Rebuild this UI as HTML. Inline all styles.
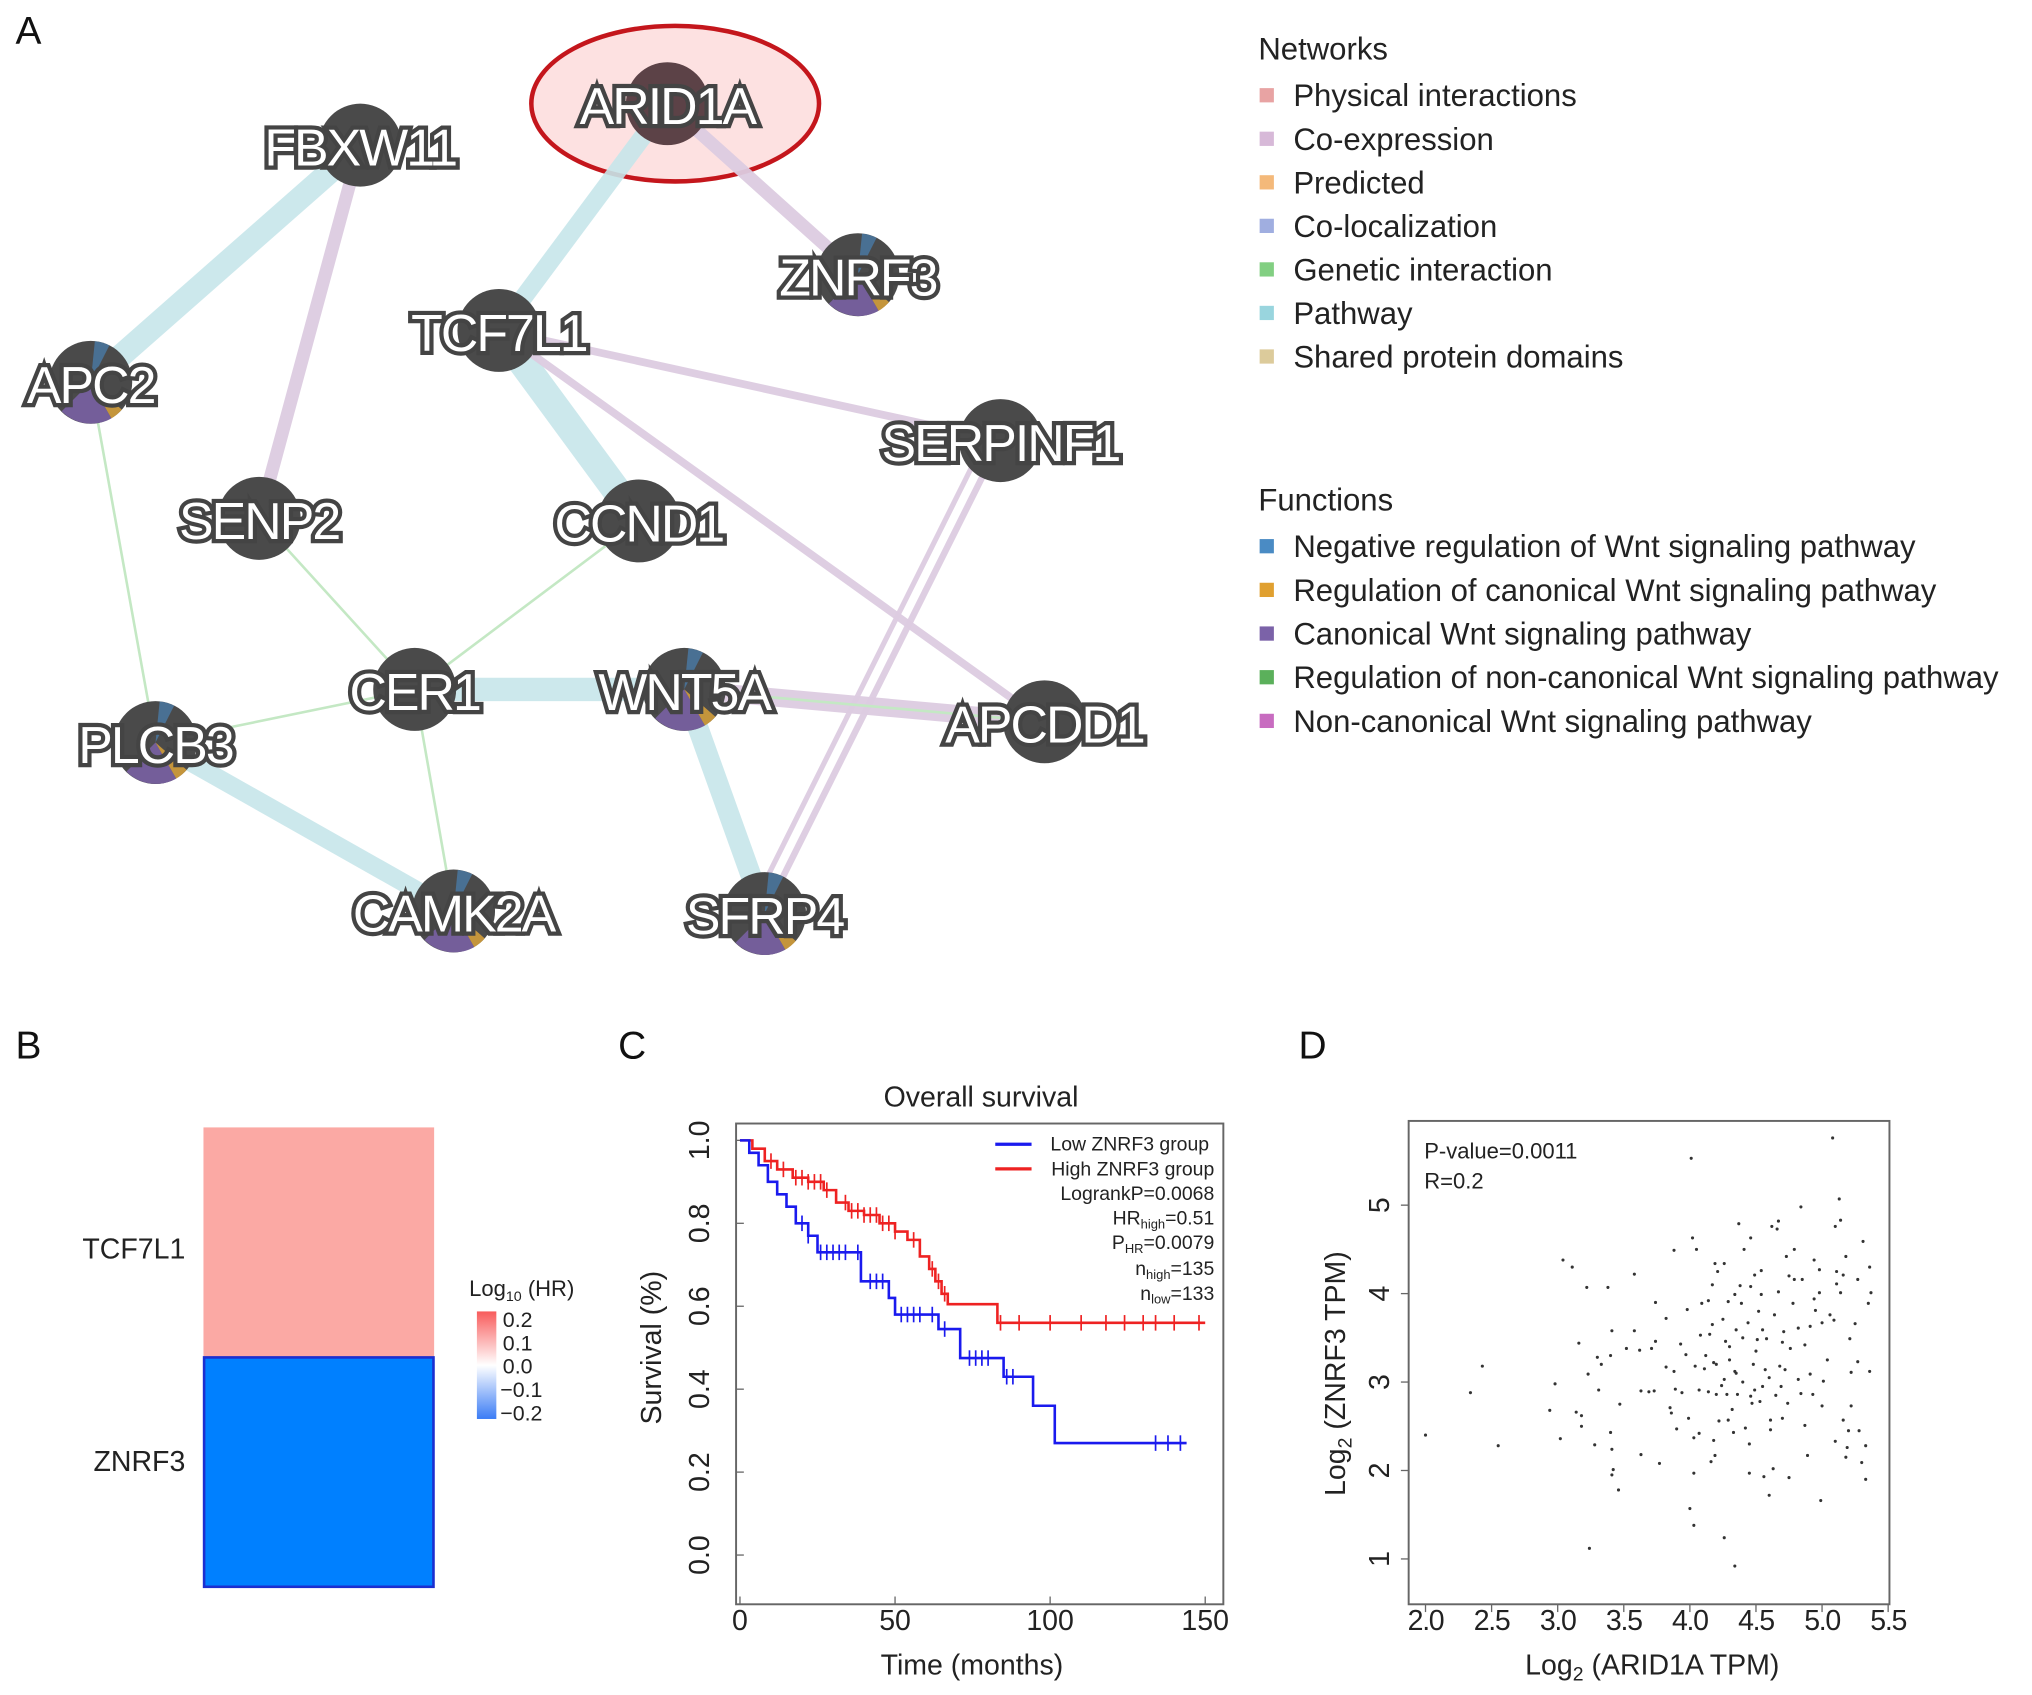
<!DOCTYPE html>
<html><head><meta charset="utf-8"><style>
html,body{margin:0;padding:0;background:#fff;}
svg{display:block;font-family:"Liberation Sans",sans-serif;}
.lab{fill:#fff;stroke:#444;stroke-width:6.5;paint-order:stroke;font-size:40px;letter-spacing:-1.5px;text-anchor:middle;dominant-baseline:central;font-family:"Liberation Sans",sans-serif;}
.leg{font-size:24px;fill:#222;}
.tk{font-size:22px;fill:#222;}
</style></head><body>
<svg id="fig" width="2032" height="1695" viewBox="0 0 1568 1308" preserveAspectRatio="none" xmlns="http://www.w3.org/2000/svg">
<rect width="1568" height="1308" fill="#fff"/>
<text x="12" y="34" font-size="30" fill="#111">A</text>
<text x="12" y="817" font-size="30" fill="#111">B</text>
<text x="477" y="817" font-size="30" fill="#111">C</text>
<text x="1002" y="817" font-size="30" fill="#111">D</text>

<g id="network">
<ellipse cx="521" cy="80" rx="111" ry="60" fill="#fde1e1" stroke="#c4161c" stroke-width="3.5"/>
<g id="edges"></g><g id="nodes"></g>
</g>

<g>
<text x="971" y="46" class="leg">Networks</text>
<g id="netleg"></g>
<text x="971" y="394" class="leg">Functions</text>
<g id="funleg"></g>
</g>

<g>
<rect x="157" y="870" width="178" height="177" fill="#fba9a4"/>
<rect x="157.5" y="1047.5" width="177" height="177" fill="#0080ff" stroke="#1c2fd0" stroke-width="2"/>
<text x="143" y="971" font-size="22" text-anchor="end" fill="#222">TCF7L1</text>
<text x="143" y="1135" font-size="22" text-anchor="end" fill="#222">ZNRF3</text>
<defs><linearGradient id="cb" x1="0" y1="0" x2="0" y2="1"><stop offset="0" stop-color="#f85c5c"/><stop offset="0.5" stop-color="#ffffff"/><stop offset="1" stop-color="#3b7cf5"/></linearGradient></defs>
<text x="362" y="1000" font-size="17" fill="#222">Log<tspan font-size="11" dy="4">10</tspan><tspan dy="-4"> (HR)</tspan></text>
<rect x="368" y="1012" width="15" height="83" fill="url(#cb)"/>
<g font-size="16.5" fill="#222">
<text x="388" y="1024">0.2</text><text x="388" y="1042">0.1</text><text x="388" y="1060">0.0</text><text x="386" y="1078">−0.1</text><text x="386" y="1096">−0.2</text></g>
</g>

<g id="km">
<text x="757" y="854" font-size="22" text-anchor="middle" fill="#222">Overall survival</text>
<rect x="568" y="867" width="376" height="371" fill="none" stroke="#666" stroke-width="1.5"/>
<text transform="translate(510,1040) rotate(-90)" font-size="22" text-anchor="middle" fill="#222">Survival (%)</text>
<text x="750" y="1292" font-size="22" text-anchor="middle" fill="#222">Time (months)</text>
<g id="kmaxes"></g><g id="kmlines"></g>
<g>
<line x1="768" y1="883" x2="796" y2="883" stroke="#1a1aee" stroke-width="2.5"/>
<line x1="768" y1="902" x2="796" y2="902" stroke="#ee2222" stroke-width="2.5"/>
<g font-size="15" fill="#222" text-anchor="end">
<text x="933" y="888">Low ZNRF3 group</text>
<text x="937" y="907">High ZNRF3 group</text>
<text x="937" y="926">LogrankP=0.0068</text>
<text x="937" y="945">HR<tspan font-size="10" dy="3">high</tspan><tspan dy="-3">=0.51</tspan></text>
<text x="937" y="964">P<tspan font-size="10" dy="3">HR</tspan><tspan dy="-3">=0.0079</tspan></text>
<text x="937" y="984">n<tspan font-size="10" dy="3">high</tspan><tspan dy="-3">=135</tspan></text>
<text x="937" y="1003">n<tspan font-size="10" dy="3">low</tspan><tspan dy="-3">=133</tspan></text>
</g></g>
</g>

<g id="sc">
<rect x="1087" y="865" width="371" height="373" fill="none" stroke="#666" stroke-width="1.5"/>
<text x="1099" y="894" font-size="17" fill="#222">P-value=0.0011</text>
<text x="1099" y="917" font-size="17" fill="#222">R=0.2</text>
<text transform="translate(1038,1060) rotate(-90)" font-size="22" text-anchor="middle" fill="#222">Log<tspan font-size="15" dy="5">2</tspan><tspan dy="-5"> (ZNRF3 TPM)</tspan></text>
<text x="1275" y="1292" font-size="22" text-anchor="middle" fill="#222">Log<tspan font-size="15" dy="5">2</tspan><tspan dy="-5"> (ARID1A TPM)</tspan></text>
<g id="scaxes"></g><g id="scpts"></g>
</g>
</svg>
<script>
const NS="http://www.w3.org/2000/svg";
function mk(tag,attrs,parent){const e=document.createElementNS(NS,tag);for(const k in attrs)e.setAttribute(k,attrs[k]);parent.appendChild(e);return e;}

// ---- network ----
const nodeNames=["ARID1A","FBXW11","ZNRF3","TCF7L1","APC2","SERPINF1","SENP2","CCND1","CER1","WNT5A","APCDD1","PLCB3","CAMK2A","SFRP4"];
const nodeX=[515,278,662,385,70,772,200,493,320,528,806,120,350,590];
const nodeY=[80,112,212,255,295,340,400,402,532,532,557,573,703,705];
const edgePathway=[["FBXW11","APC2",18],["ARID1A","TCF7L1",14],["TCF7L1","CCND1",22],["CER1","WNT5A",18],["WNT5A","SFRP4",16],["PLCB3","CAMK2A",14]];
const edgeCoexp=[["FBXW11","SENP2",10],["ARID1A","ZNRF3",10],["TCF7L1","SERPINF1",6],["TCF7L1","APCDD1",6],["WNT5A","APCDD1",14],["SERPINF1","SFRP4",5]];
const edgeGenetic=[["APC2","PLCB3",2],["SENP2","CER1",2],["CCND1","CER1",2],["CER1","PLCB3",2],["CER1","CAMK2A",2],["WNT5A","APCDD1",2]];
const pieNodes=["ZNRF3","APC2","WNT5A","SFRP4","PLCB3","CAMK2A"];
const eg=document.getElementById('edges'),ng=document.getElementById('nodes');
function drawEdges(list,color,op,name,off){list.forEach(e=>{const a=nodeNames.indexOf(e[0]),b=nodeNames.indexOf(e[1]);
 const l=mk('line',{x1:nodeX[a]+(off||0),y1:nodeY[a],x2:nodeX[b]+(off||0),y2:nodeY[b],stroke:color,'stroke-width':e[2],'stroke-opacity':op},eg);
 
 });}
drawEdges(edgePathway,"#c6e6ea",0.9,"pathway");
drawEdges(edgeCoexp,"#dccbe0",0.95,"coexpression");
drawEdges([["SERPINF1","SFRP4",4]],"#dccbe0",0.95,"coexpression",-12);
drawEdges(edgeGenetic,"#c4e8c4",1,"genetic");
nodeNames.forEach((n,i)=>{const g=mk('g',{},ng);
 
 
 const r=32;
 mk('circle',{cx:nodeX[i],cy:nodeY[i],r:r,fill:i===0?'#5c4247':'#4a4a4a'},g);
 if(pieNodes.includes(n)){const cx=nodeX[i],cy=nodeY[i];
  mk('path',{d:`M${cx},${cy} L${cx-r*0.7},${cy+r*0.7} A${r},${r} 0 0 0 ${cx+r*0.5},${cy+r*0.87} Z`,fill:'#7b62a8','fill-opacity':0.85},g);
  mk('path',{d:`M${cx},${cy} L${cx+r*0.5},${cy+r*0.87} A${r},${r} 0 0 0 ${cx+r*0.75},${cy+r*0.66} Z`,fill:'#d9a23a','fill-opacity':0.85},g);
  mk('path',{d:`M${cx},${cy} L${cx+r*0.1},${cy-r*0.99} A${r},${r} 0 0 1 ${cx+r*0.45},${cy-r*0.89} Z`,fill:'#4a8bc4','fill-opacity':0.6},g);}
 const t=mk('text',{x:nodeX[i],y:nodeY[i]+2,class:'lab'},g);t.textContent=n;});

// ---- legends ----
const netLabels=["Physical interactions","Co-expression","Predicted","Co-localization","Genetic interaction","Pathway","Shared protein domains"];
const netColors=["#e8a3a3","#d7b9d8","#f4b97a","#a0aee0","#82cf82","#99d5de","#dccb9b"];
const funLabels=["Negative regulation of Wnt signaling pathway","Regulation of canonical Wnt signaling pathway","Canonical Wnt signaling pathway","Regulation of non-canonical Wnt signaling pathway","Non-canonical Wnt signaling pathway"];
const funColors=["#4a8bc4","#e0a030","#7b62a8","#5bb05b","#c86cc0"];
function legend(gid,labels,colors,y0,dy,prefix){const g=document.getElementById(gid);labels.forEach((l,i)=>{const y=y0+i*dy;
 const it=mk('g',{},g);
 
 
 mk('rect',{x:972,y:y-6,width:11,height:11,fill:colors[i]},it);
 const t=mk('text',{x:998,y:y+8,class:'leg'},it);t.textContent=l;});}
legend('netleg',netLabels,netColors,74,33.6,'network');
legend('funleg',funLabels,funColors,422,33.7,'function');

// ---- KM ----
const kmXTicks=[0,50,100,150];
const kmYTicks=[0.0,0.2,0.4,0.6,0.8,1.0];
const lowTimes=[0,3,6,9,12,15,18,22,25,39,48,50,64,71,85,94.5,101.5];
const lowSurv=[1,0.97,0.94,0.9,0.87,0.84,0.8,0.77,0.73,0.66,0.62,0.58,0.545,0.475,0.43,0.36,0.27];
const lowEnd=144;
const highTimes=[0,4,8,12,17,22,27,31,35,40,45,50,54,58,61,63,65,67,83];
const highSurv=[1,0.98,0.95,0.93,0.91,0.9,0.88,0.85,0.83,0.82,0.8,0.78,0.76,0.72,0.69,0.66,0.63,0.605,0.56];
const highEnd=150;
const lowCensor=[20,22,26,28,30,32,34,38,42,44,46,52,54,56,58,62,66,74,76,78,80,86,88,134,138,142];
const highCensor=[10,14,18,20,22,24,26,28,34,36,38,40,42,44,46,48,50,56,62,64,66,84,90,100,110,118,124,130,134,140,148];
const kx=t=>571+t*(930-571)/150, ky=s=>1200-s*320;
const ka=document.getElementById('kmaxes');
kmXTicks.forEach(v=>{mk('line',{x1:kx(v),y1:1238,x2:kx(v),y2:1232,stroke:'#666'},ka);const t=mk('text',{x:kx(v),y:1258,class:'tk','text-anchor':'middle'},ka);t.textContent=v;
 });
kmYTicks.forEach(v=>{mk('line',{x1:568,y1:ky(v),x2:574,y2:ky(v),stroke:'#666'},ka);const t=mk('text',{transform:`translate(547,${ky(v)}) rotate(-90)`,class:'tk','text-anchor':'middle'},ka);t.textContent=v.toFixed(1);
 });
function survAt(ts,ss,t){let s=ss[0];for(let i=0;i<ts.length;i++)if(ts[i]<=t)s=ss[i];return s;}
function km(ts,ss,end,cens,color,name){const kl=document.getElementById('kmlines');
 let d=`M${kx(ts[0])},${ky(ss[0])}`;for(let i=1;i<ts.length;i++)d+=` H${kx(ts[i])} V${ky(ss[i])}`;d+=` H${kx(end)}`;
 const p=mk('path',{d:d,fill:'none',stroke:color,'stroke-width':2},kl);
 
 cens.forEach(c=>{const y=ky(survAt(ts,ss,c));const l=mk('line',{x1:kx(c),y1:y-6,x2:kx(c),y2:y+6,stroke:color,'stroke-width':1.3},kl);
  });}
km(highTimes,highSurv,highEnd,highCensor,'#ee2222','high');
km(lowTimes,lowSurv,lowEnd,lowCensor,'#1a1aee','low');

// ---- scatter ----
const scXTicks=[2.0,2.5,3.0,3.5,4.0,4.5,5.0,5.5];
const scYTicks=[1,2,3,4,5];
const ptX=[2.0,2.34,2.43,2.55,2.94,2.98,3.02,3.04,3.11,3.14,3.18,3.18,3.16,3.23,3.24,3.28,3.22,3.38,3.30,3.33,3.31,3.40,3.41,3.40,3.41,3.42,3.41,3.46,3.47,3.52,3.58,3.58,3.62,3.63,3.63,3.69,3.71,3.73,3.74,3.74,3.77,3.82,3.82,3.85,3.86,3.88,3.88,3.89,3.90,3.93,3.94,3.97,3.98,3.99,4.00,4.01,4.02,4.03,4.03,4.03,4.05,4.04,4.07,4.07,4.08,4.09,4.11,4.12,4.14,4.14,4.15,4.16,4.17,4.17,4.18,4.18,4.19,4.19,4.20,4.21,4.22,4.24,4.25,4.26,4.26,4.26,4.27,4.28,4.29,4.29,4.30,4.32,4.33,4.34,4.34,4.34,4.35,4.36,4.37,4.38,4.39,4.40,4.41,4.42,4.44,4.45,4.45,4.46,4.46,4.46,4.47,4.48,4.49,4.49,4.51,4.52,4.53,4.54,4.54,4.55,4.56,4.57,4.58,4.60,4.61,4.61,4.62,4.63,4.64,4.65,4.66,4.67,4.67,4.68,4.69,4.70,4.71,4.72,4.73,4.74,4.75,4.75,4.76,4.78,4.79,4.79,4.82,4.82,4.84,4.84,4.85,4.87,4.87,4.89,4.91,4.91,4.93,4.94,4.94,4.95,4.98,4.98,4.99,5.00,5.00,5.01,5.04,5.06,5.08,5.09,5.10,5.10,5.11,5.11,5.13,5.14,5.14,5.16,5.16,5.18,5.18,5.19,5.20,5.21,5.22,5.22,5.25,5.27,5.27,5.28,5.30,5.31,5.33,5.33,5.35,5.36,5.36,5.37,4.30,4.50,4.60,4.40,4.20,4.70,4.35,4.55];
const ptY=[2.40,2.88,3.18,2.28,2.68,2.98,2.36,4.38,4.30,2.66,2.62,2.50,3.44,3.09,1.12,2.29,4.07,4.07,3.28,3.20,2.91,3.30,3.58,2.43,2.24,2.01,1.95,1.78,2.75,3.38,4.22,3.58,3.36,2.90,2.18,2.89,3.38,2.90,3.90,3.46,2.08,3.17,3.72,2.71,2.65,3.12,4.49,2.92,2.47,3.43,2.88,3.31,3.82,2.59,1.57,5.53,4.63,1.38,2.37,1.97,4.50,3.18,2.91,2.42,3.53,3.89,3.15,3.30,3.92,2.89,3.54,2.10,4.10,3.65,3.22,2.34,4.34,2.17,2.86,4.25,2.56,2.96,3.71,4.34,1.24,3.03,3.46,2.86,3.91,2.57,3.25,2.69,2.43,3.99,3.12,0.92,3.59,2.86,4.79,4.09,3.89,3.50,4.50,2.48,3.67,2.30,1.97,4.63,2.84,4.08,2.76,3.20,2.91,4.21,3.48,3.80,2.78,4.26,3.99,3.59,1.93,3.14,3.49,1.72,2.57,2.46,4.76,2.02,3.76,2.85,4.73,4.02,4.82,3.18,2.95,2.59,3.57,3.14,4.42,2.76,4.20,1.92,3.38,3.89,4.50,4.16,3.61,3.03,4.98,2.87,4.16,3.42,2.51,2.17,3.09,3.63,2.86,3.94,4.38,3.81,4.27,4.01,1.66,2.73,3.67,3.01,3.25,3.76,5.76,3.70,2.33,4.76,4.11,4.25,5.07,4.01,4.83,2.57,4.21,4.42,2.15,2.26,2.45,3.49,3.11,2.73,3.66,4.16,3.23,2.45,2.09,4.59,1.90,2.28,3.89,4.30,3.12,4.01,3.40,3.35,3.05,3.00,3.20,3.45,3.10,2.95];
const sx=v=>1100+(v-2)*(1457-1100)/3.5, sy=v=>1203-(v-1)*(1203-930)/4;
const sa=document.getElementById('scaxes');
scXTicks.forEach(v=>{mk('line',{x1:sx(v),y1:1238,x2:sx(v),y2:1244,stroke:'#666'},sa);const t=mk('text',{x:sx(v),y:1258,class:'tk','text-anchor':'middle','letter-spacing':'-1'},sa);t.textContent=v.toFixed(1);
 });
scYTicks.forEach(v=>{mk('line',{x1:1081,y1:sy(v),x2:1087,y2:sy(v),stroke:'#666'},sa);const t=mk('text',{transform:`translate(1072,${sy(v)}) rotate(-90)`,class:'tk','text-anchor':'middle'},sa);t.textContent=v;
 });
const sp=document.getElementById('scpts');
ptX.forEach((v,i)=>{const c=mk('circle',{cx:sx(v),cy:sy(ptY[i]),r:1.2,fill:'#333'},sp);
 
 });
</script>
</body></html>
